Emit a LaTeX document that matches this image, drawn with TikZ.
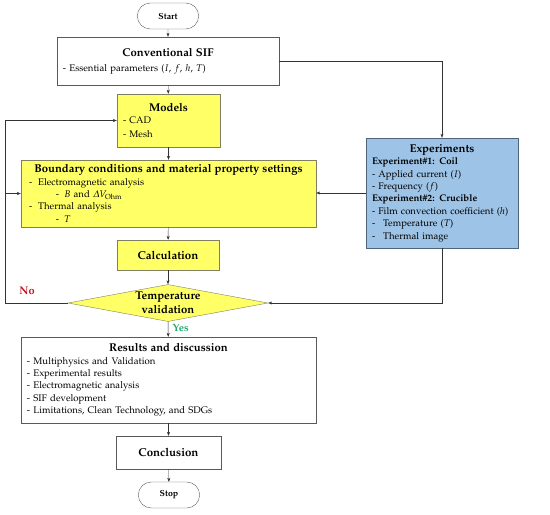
\documentclass[tikz,border=0pt]{standalone}
\usepackage[T1]{fontenc}
\usepackage[slantedGreek]{mathpazo}
\usepackage{xcolor}
\usepackage{tikz}
\usetikzlibrary{shapes.geometric, shapes.misc, arrows.meta, positioning, calc}

\definecolor{boxyellow}{RGB}{255,255,102}
\definecolor{yedge}{RGB}{128,128,96}
\definecolor{expblue}{RGB}{157,195,230}
\definecolor{bedge}{RGB}{80,100,125}
\definecolor{noRed}{RGB}{200,20,30}
\definecolor{yesGreen}{RGB}{30,170,110}

\newcommand{\boxhead}[1]{\makebox[\linewidth][c]{\fontsize{11.3}{13}\selectfont\bfseries #1}}

\begin{document}
\begin{tikzpicture}[
  x=1pt, y=-1pt,
  every node/.style={font=\fontsize{9.6}{12.4}\selectfont},
  box/.style={rectangle, draw=gray!70!black, fill=white, inner xsep=6pt, inner ysep=0pt, align=left},
  ybox/.style={box, fill=boxyellow, draw=yedge},
  expbox/.style={box, fill=expblue, draw=bedge},
  term/.style={rounded rectangle, draw=gray!70!black, minimum width=68pt, minimum height=26pt,
               font=\fontsize{8.8}{10}\selectfont\bfseries},
  decide/.style={diamond, aspect=5.4, inner sep=0pt, draw=yedge, fill=boxyellow, align=center,
                 minimum width=200pt, minimum height=37pt, font=\fontsize{11.3}{13.5}\selectfont\bfseries},
  arr/.style={-{Stealth[length=4pt,width=3pt]}, gray!40!black},
]
\useasboundingbox (0,0) rectangle (550,515);

% main column
\node[term] (start) at (168,16) {Start};
\node[box, minimum width=222pt, minimum height=48pt, text width=210pt] (sif) at (168,61)
  {\boxhead{Conventional SIF}\\[3pt]
   - Essential parameters ($I$, $f$, $h$, $T$)};
\node[ybox, minimum width=101pt, minimum height=53pt, text width=91pt] (models) at (168.5,120.5)
  {\boxhead{Models}\\
   - CAD\\[1pt]
   - Mesh};
\node[ybox, minimum width=295pt, minimum height=67pt, text width=283pt] (bc) at (168.5,193.5)
  {\boxhead{Boundary conditions and material property settings}\\
   \hspace*{2pt}-\hspace*{6pt}Electromagnetic analysis\\
   \hspace*{29pt}-\hspace*{5pt}$B$ and $\Delta V_{\mathrm{Ohm}}$\\
   \hspace*{2pt}-\hspace*{6pt}Thermal analysis\\
   \hspace*{29pt}-\hspace*{5pt}$T$};
\node[ybox, minimum width=102pt, minimum height=30pt, align=center,
      font=\fontsize{11.5}{13}\selectfont\bfseries] (calc) at (168,255) {Calculation};
\node[decide] (valid) at (168,303) {Temperature\\validation};
\node[box, minimum width=295pt, minimum height=86pt, text width=283pt] (res) at (168.5,380)
  {\boxhead{Results and discussion}\\
   - Multiphysics and Validation\\
   - Experimental results\\
   - Electromagnetic analysis\\
   - SIF development\\
   - Limitations, Clean Technology, and SDGs};
\node[box, minimum width=105pt, minimum height=33pt, align=center,
      font=\fontsize{11.5}{13}\selectfont\bfseries] (conc) at (168.5,452.5) {Conclusion};
\node[term] (stop) at (169,495) {Stop};

% experiments on the right
\node[expbox, minimum width=150pt, minimum height=110pt, text width=140pt] (exp) at (442,193)
  {\boxhead{Experiments}\\
   \textbf{Experiment\#1: Coil}\\
   - Applied current ($I$)\\
   - Frequency ($f$)\\
   \textbf{Experiment\#2: Crucible}\\
   - Film convection coefficient ($h$)\\
   -\hspace*{8pt}Temperature ($T$)\\
   -\hspace*{8pt}Thermal image};

% flow
\draw[arr] (start) -- (sif);
\draw[arr] (sif) -- (models);
\draw[arr] (models) -- (bc);
\draw[arr] (bc) -- (calc);
\draw[arr] (calc) -- (valid);
\draw[arr] (valid) -- node[right=1pt, pos=0.4, text=yesGreen, font=\fontsize{10.5}{12}\selectfont\bfseries] (yes) {Yes} (res);
\draw[arr] (res) -- (conc);
\draw[arr] (conc) -- (stop);

\draw[arr] (sif.east) -| (exp.north);
\draw[arr] (exp.west) -- (exp.west -| bc.east);
\draw[arr] (exp.south) |- (valid.east);

% loop back
\coordinate (loop) at (5,303);
\draw[arr] (valid.west) -- (loop) |- (models.west);
\draw[arr] (loop |- bc.west) -- (bc.west);
\node[text=noRed, font=\fontsize{11}{12}\selectfont\bfseries] (no) at (27,291) {No};
\end{tikzpicture}
\end{document}
